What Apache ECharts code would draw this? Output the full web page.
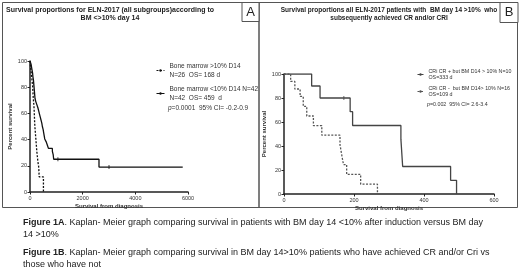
<!DOCTYPE html>
<html>
<head>
<meta charset="utf-8">
<script src="https://cdn.jsdelivr.net/npm/echarts@6/dist/echarts.min.js"></script>
<style>
  html, body { margin: 0; padding: 0; background: #fff; }
  #main { width: 520px; height: 270px; }
</style>
</head>
<body>
<div id="main"></div>
<script>
// Panel A: survival by BM blasts on day 14
var aXTicks = [0, 2000, 4000, 6000];
var aHighTimes = [0, 20, 40, 60, 80, 100, 110, 120, 135, 150, 160, 168, 175, 185, 200, 215, 230, 245, 260, 280, 300, 330, 350, 510];
var aHighSurv = [100, 96.2, 92.3, 88.5, 84.6, 80.8, 76.9, 73.1, 69.2, 65.4, 61.5, 57.7, 53.8, 50, 46.2, 42.3, 38.5, 34.6, 30.8, 26.9, 23.1, 19.2, 11.5, 0];
var aLowTimes = [0, 40, 60, 80, 100, 110, 130, 140, 150, 160, 170, 180, 190, 220, 260, 300, 330, 360, 390, 420, 450, 470, 500, 520, 540, 560, 620, 660, 700, 850, 880, 900, 2620, 5800];
var aLowSurv = [100, 97.6, 95.2, 92.9, 90.5, 88.1, 85.7, 83.3, 81, 78.6, 76.2, 73.8, 71.4, 69, 66.7, 64.3, 61.9, 59.5, 57.1, 54.8, 52.4, 50, 47.6, 45.2, 42.9, 40.5, 38.1, 35.7, 33.3, 31, 28.6, 25, 19, 19];
var aLowCensorTimes = [1060, 3000];
var aLowCensorSurv = [25, 19];

// Panel B: BM day 14 >10%, with / without CR
var bXTicks = [0, 200, 400, 600];
var bCrTimes = [0, 79, 103, 189, 196, 334, 339, 476, 493];
var bCrSurv = [100, 90, 80, 68.6, 57.1, 45.7, 22.9, 11.4, 0];
var bCrCensorTimes = [171];
var bCrCensorSurv = [80];
var bNoCrTimes = [0, 19, 31, 46, 55, 65, 84, 108, 160, 165, 170, 179, 219, 267];
var bNoCrSurv = [100, 93.8, 87.5, 81.3, 73, 65, 57, 49, 41, 32.5, 24.5, 16.3, 8.2, 0];

var legendText = {
    'Bone marrow >10% D14': 'Bone marrow >10% D14\nN=26  OS= 168 d',
    'Bone marrow <10% D14 N=42': 'Bone marrow <10% D14 N=42\nN=42  OS= 459  d',
    'CRi CR + but BM D14 > 10% N=10': 'CRi CR + but BM D14 > 10% N=10\nOS=333 d',
    'CRi CR -  but BM D14> 10% N=16': 'CRi CR -  but BM D14> 10% N=16\nOS=109 d'
};

function pairs(xs, ys) {
    return xs.map(function (x, i) { return [x, ys[i]]; });
}

var FONT = 'Liberation Sans, Arial, sans-serif';

function xAxisFor(gridIndex, ticks) {
    return {
        gridIndex: gridIndex,
        type: 'value',
        min: ticks[0],
        max: ticks[ticks.length - 1],
        interval: ticks[1] - ticks[0],
        name: 'Survival from diagnosis',
        nameLocation: 'middle',
        nameGap: 11,
        nameTextStyle: { fontSize: 6, fontWeight: 'bold', color: '#333', fontFamily: FONT },
        axisLine: { lineStyle: { color: '#222', width: 1.5 } },
        axisTick: { length: 2.5, lineStyle: { color: '#222' } },
        axisLabel: { fontSize: 5.5, color: '#333', margin: 3, fontFamily: FONT, formatter: function (v) { return String(v); } },
        splitLine: { show: false }
    };
}

function yAxisFor(gridIndex) {
    return {
        gridIndex: gridIndex,
        type: 'value',
        min: 0,
        max: 100,
        interval: 20,
        name: 'Percent survival',
        nameLocation: 'middle',
        nameGap: 17,
        nameRotate: 90,
        nameTextStyle: { fontSize: 6, fontWeight: 'bold', color: '#333', fontFamily: FONT },
        axisLine: { show: true, lineStyle: { color: '#222', width: 1.5 } },
        axisTick: { show: true, length: 2.5, lineStyle: { color: '#222' } },
        axisLabel: { fontSize: 5.5, color: '#333', margin: 3, fontFamily: FONT },
        splitLine: { show: false }
    };
}

function kmLine(name, idx, data, color, dashed) {
    return {
        name: name,
        type: 'line',
        xAxisIndex: idx,
        yAxisIndex: idx,
        step: 'end',
        symbol: 'none',
        data: data,
        lineStyle: { color: color, width: 1.3, type: dashed ? [2, 1.5] : 'solid' },
        itemStyle: { color: color },
        animation: false
    };
}

function censor(idx, data, color) {
    return {
        type: 'scatter',
        xAxisIndex: idx,
        yAxisIndex: idx,
        symbol: 'rect',
        symbolSize: [1, 4],
        itemStyle: { color: color },
        data: data,
        animation: false,
        silent: true
    };
}

var myChart = echarts.init(document.getElementById('main'));
var option = {
    backgroundColor: '#fff',
    textStyle: { fontFamily: FONT },
    grid: [
        { left: 30, top: 61, width: 158, height: 131 },
        { left: 284, top: 74, width: 210, height: 120 }
    ],
    xAxis: [xAxisFor(0, aXTicks), xAxisFor(1, bXTicks)],
    yAxis: [yAxisFor(0), yAxisFor(1)],
    legend: [
        {
            data: ['Bone marrow >10% D14', 'Bone marrow <10% D14 N=42'],
            orient: 'vertical',
            left: 156,
            top: 62,
            padding: 0,
            itemWidth: 8,
            itemHeight: 3,
            itemGap: 6,
            lineStyle: { width: 1 },
            formatter: function (n) { return legendText[n]; },
            textStyle: { fontSize: 6.5, lineHeight: 8.5, color: '#333', fontFamily: FONT }
        },
        {
            data: ['CRi CR + but BM D14 > 10% N=10', 'CRi CR -  but BM D14> 10% N=16'],
            orient: 'vertical',
            left: 417,
            top: 68,
            padding: 0,
            itemWidth: 6,
            itemHeight: 3,
            itemGap: 4,
            lineStyle: { width: 1 },
            formatter: function (n) { return legendText[n]; },
            textStyle: { fontSize: 5.3, lineHeight: 6.5, color: '#333', fontFamily: FONT }
        }
    ],
    series: [
        kmLine('Bone marrow >10% D14', 0, pairs(aHighTimes, aHighSurv), '#111', true),
        kmLine('Bone marrow <10% D14 N=42', 0, pairs(aLowTimes, aLowSurv), '#111', false),
        censor(0, pairs(aLowCensorTimes, aLowCensorSurv), '#111'),
        kmLine('CRi CR + but BM D14 > 10% N=10', 1, pairs(bCrTimes, bCrSurv), '#444', false),
        censor(1, pairs(bCrCensorTimes, bCrCensorSurv), '#444'),
        kmLine('CRi CR -  but BM D14> 10% N=16', 1, pairs(bNoCrTimes, bNoCrSurv), '#555', true)
    ],
    graphic: [
        // panel frames
        { type: 'rect', shape: { x: 2.5, y: 2.5, width: 256.5, height: 205 }, style: { fill: null, stroke: '#555', lineWidth: 1 } },
        { type: 'rect', shape: { x: 259, y: 2.5, width: 258.5, height: 205 }, style: { fill: null, stroke: '#555', lineWidth: 1 } },
        { type: 'rect', shape: { x: 242, y: 2.5, width: 17, height: 19 }, style: { fill: '#fff', stroke: '#555', lineWidth: 1 } },
        { type: 'rect', shape: { x: 500, y: 2.5, width: 18, height: 20 }, style: { fill: '#fff', stroke: '#555', lineWidth: 1 } },
        { type: 'text', x: 250.5, y: 12, style: { text: 'A', fontSize: 13, fontFamily: FONT, fill: '#222', align: 'center', verticalAlign: 'middle' } },
        { type: 'text', x: 509, y: 12.5, style: { text: 'B', fontSize: 13, fontFamily: FONT, fill: '#222', align: 'center', verticalAlign: 'middle' } },
        // titles
        { type: 'text', x: 110, y: 6, style: { text: 'Survival proportions for ELN-2017 (all subgroups)according to\nBM <>10% day 14', fontSize: 7, lineHeight: 8, fontWeight: 'bold', fontFamily: FONT, fill: '#222', align: 'center', verticalAlign: 'top' } },
        { type: 'text', x: 389, y: 6, style: { text: 'Survival proportions all ELN-2017 patients with  BM day 14 >10%  who\nsubsequently achieved CR and/or CRI', fontSize: 6.5, lineHeight: 8, fontWeight: 'bold', fontFamily: FONT, fill: '#222', align: 'center', verticalAlign: 'top' } },
        // stats
        { type: 'text', x: 168, y: 108, style: { text: '{i|p}=0.0001  95% CI= -0.2-0.9', fontSize: 6.5, fontFamily: FONT, fill: '#333', verticalAlign: 'middle', rich: { i: { fontStyle: 'italic', fontSize: 6.5, fontFamily: FONT, fill: '#333' } } } },
        { type: 'text', x: 427, y: 105, style: { text: '{i|p}=0.002  95% CI= 2.6-3.4', fontSize: 5.3, fontFamily: FONT, fill: '#333', verticalAlign: 'middle', rich: { i: { fontStyle: 'italic', fontSize: 5.3, fontFamily: FONT, fill: '#333' } } } },
        // caption
        { type: 'text', x: 23, y: 217, style: { text: '{b|Figure 1A}. Kaplan- Meier graph comparing survival in patients with BM day 14 <10% after induction versus BM day\n14 >10%', fontSize: 9, lineHeight: 12, fontFamily: FONT, fill: '#222', verticalAlign: 'top', rich: { b: { fontWeight: 'bold', fontSize: 9, fontFamily: FONT, fill: '#222' } } } },
        { type: 'text', x: 23, y: 247, style: { text: '{b|Figure 1B}. Kaplan- Meier graph comparing survival in BM day 14>10% patients who have achieved CR and/or Cri vs\nthose who have not', fontSize: 9, lineHeight: 12, fontFamily: FONT, fill: '#222', verticalAlign: 'top', rich: { b: { fontWeight: 'bold', fontSize: 9, fontFamily: FONT, fill: '#222' } } } }
    ]
};
myChart.setOption(option);
</script>
</body>
</html>
